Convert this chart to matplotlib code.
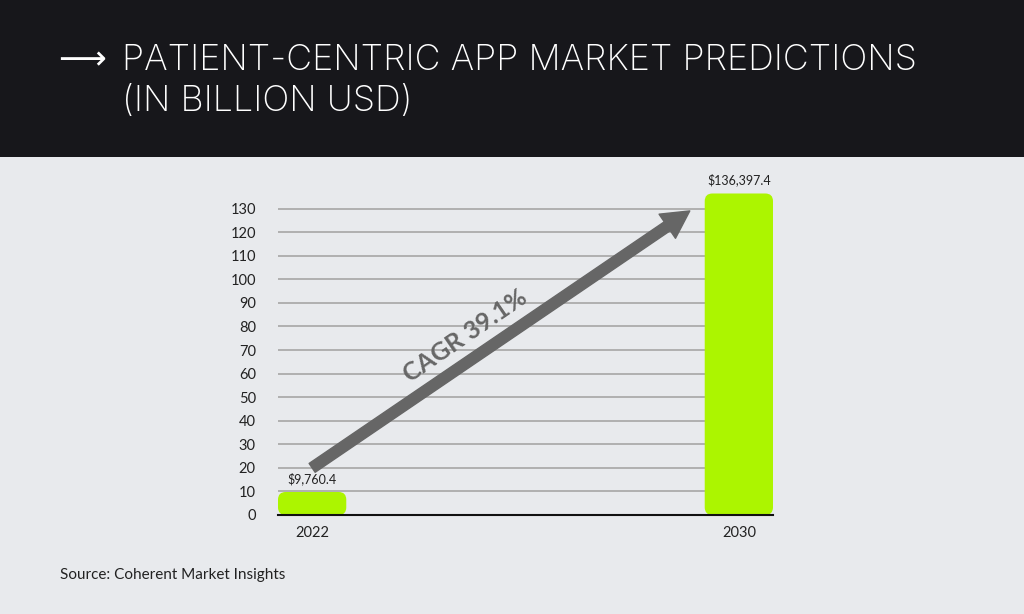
import matplotlib
matplotlib.use("Agg")
import matplotlib.pyplot as plt
from matplotlib.patches import FancyBboxPatch, Rectangle

# data (billion USD)
years = ["2022", "2030"]
values = [9.7604, 136.3974]
value_labels = ["$9,760.4", "$136,397.4"]
yticks = list(range(0, 140, 10))
cagr_text = "CAGR 39.1%"

bg = "#e8eaed"
header = "#17171b"
lime = "#acf500"
grey = "#666666"

plt.rcParams["font.family"] = ["Lato", "DejaVu Sans"]

fig = plt.figure(figsize=(10.24, 6.14), dpi=100, facecolor=bg)

# dark title band
fig.patches.append(Rectangle((0, 1 - 157 / 614), 1, 157 / 614, transform=fig.transFigure,
                             facecolor=header, edgecolor="none", zorder=0))
fig.text(58 / 1024, 1 - 60 / 614, "⟶", color="white", fontsize=24, va="center", ha="left",
         family=["DejaVu Sans"])
fig.text(122 / 1024, 1 - 60 / 614, "PATIENT-CENTRIC APP MARKET PREDICTIONS", color="white",
         fontsize=25.8, va="center", ha="left", family=["Inter", "DejaVu Sans"], fontweight="light")
fig.text(122 / 1024, 1 - 102 / 614, "(IN BILLION USD)", color="white",
         fontsize=25.8, va="center", ha="left", family=["Inter", "DejaVu Sans"], fontweight="light")

fig.text(60 / 1024, 1 - 575 / 614, "Source: Coherent Market Insights", color="#222222",
         fontsize=11, va="center", ha="left")

ax = fig.add_axes([278 / 1024, 1 - 515 / 614, 495 / 1024, 330 / 614])
ax.set_facecolor(bg)
x = list(range(len(years)))
width = 0.16
ax.set_xlim(-0.08, 1.08)
ax.set_ylim(0, 140)

bars = ax.bar(x, values, width=width, color=lime, zorder=3)
# swap the square bars for rounded ones
aspect = (140 / 330) / (1.16 / 495)
for b in bars:
    bx, by = b.get_x(), b.get_y()
    bw, bh = b.get_width(), b.get_height()
    b.set_visible(False)
    ax.add_patch(FancyBboxPatch((bx, by), bw, bh,
                                boxstyle="round,pad=0,rounding_size=0.018",
                                mutation_aspect=aspect, facecolor=lime,
                                edgecolor="none", zorder=3))

for xi, v, lab in zip(x, values, value_labels):
    ax.text(xi, v + 3, lab, ha="center", va="bottom", fontsize=9, color="#222222", zorder=6)

ax.set_yticks(yticks)
ax.set_yticklabels([str(t) for t in yticks])
ax.yaxis.grid(True, color="#b0b0b0", linewidth=1.4, zorder=1)
ax.set_axisbelow(True)
ax.set_xticks(x)
ax.set_xticklabels(years)
ax.tick_params(axis="both", length=0, labelsize=10.5, colors="#222222")
ax.tick_params(axis="y", pad=16)
ax.tick_params(axis="x", pad=8)
for s in ["top", "right", "left"]:
    ax.spines[s].set_visible(False)
ax.spines["bottom"].set_color("#111111")
ax.spines["bottom"].set_linewidth(1.5)
ax.spines["bottom"].set_zorder(4)

# CAGR arrow
ax.annotate("", xy=(0.885, 129), xytext=(0.0, 20),
            arrowprops=dict(arrowstyle="simple,head_length=1.4,head_width=1.5,tail_width=0.55",
                            mutation_scale=14, color=grey, shrinkA=0, shrinkB=0), zorder=5)
ax.text(0.358, 76, cagr_text, rotation=34.5, rotation_mode="anchor", ha="center", va="center",
        fontsize=18, fontweight="bold", color=grey, zorder=5)

fig.savefig("out.png", dpi=100, facecolor=bg)
